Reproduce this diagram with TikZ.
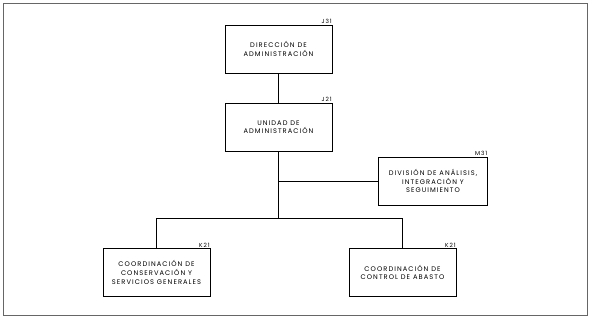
\documentclass[tikz,border=0pt]{standalone}
\usepackage{fontspec}
\setmainfont{Poppins}[LetterSpace=16]
\begin{document}
\begin{tikzpicture}[x=1pt,y=-1pt,
  unit/.style={draw=black,line width=0.9pt,minimum width=107pt,minimum height=48pt,
    align=center,font=\fontsize{6.7}{8.6}\selectfont,inner sep=1pt},
  code/.style={anchor=south east,font=\fontsize{5.8}{6}\selectfont,inner sep=0.5pt},
  link/.style={draw=black,line width=0.9pt}]
\useasboundingbox (0,0) rectangle (590,319);
\draw[draw=black!60,line width=0.7pt] (3.8,3.5) rectangle (587,315);
\node[unit] (dir) at (278.5,49) {DIRECCIÓN DE\\ADMINISTRACIÓN};
\node[code] (dirc) at (dir.north east) {J31};
\node[unit] (uni) at (278.5,127) {UNIDAD DE\\ADMINISTRACIÓN};
\node[code] (unic) at (uni.north east) {J21};
\node[unit,minimum width=109pt] (div) at (433,181) {DIVISIÓN DE ANÁLISIS,\\INTEGRACIÓN Y\\SEGUIMIENTO};
\node[code] (divc) at (div.north east) {M31};
\node[unit] (con) at (156.5,272.5) {COORDINACIÓN DE\\CONSERVACIÓN Y\\SERVICIOS GENERALES};
\node[code] (conc) at (con.north east) {K21};
\node[unit] (abs) at (402.5,272.5) {COORDINACIÓN DE\\CONTROL DE ABASTO};
\node[code] (absc) at (abs.north east) {K21};
\coordinate (j1) at (278.5,181);
\coordinate (j2) at (278.5,218);
\path[link] (dir) -- (uni);
\path[link] (uni) -- (j2);
\path[link] (j1) -- (div);
\path[link] (j2) -| (con);
\path[link] (j2) -| (abs);
\end{tikzpicture}
\end{document}
